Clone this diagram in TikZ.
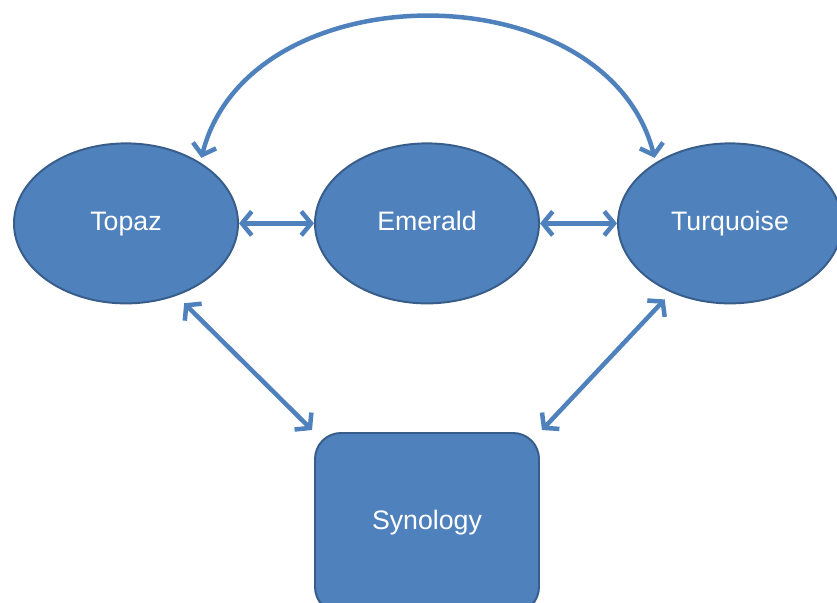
\documentclass[tikz,border=0pt]{standalone}
\usepackage{fontspec}
\setmainfont{Liberation Sans}
\usetikzlibrary{shapes.geometric,positioning,arrows.meta}
\definecolor{gemfill}{HTML}{4F81BD}
\definecolor{gemline}{HTML}{385D8A}
\tikzset{
    gem/.style={
        ellipse,draw=gemline,line width=1.4pt,
        fill=gemfill,text=white,
        minimum width=5.6cm,minimum height=4.0cm,
        text height=13.5pt,text depth=4pt,
        font=\fontsize{19}{22}\selectfont
    },
    store/.style={
        draw=gemline,line width=1.4pt,rounded corners=0.65cm,
        fill=gemfill,text=white,
        minimum width=5.6cm,minimum height=4.5cm,
        text height=13.5pt,text depth=4pt,
        font=\fontsize{19}{22}\selectfont
    },
    link/.style={gemfill,line width=3.2pt,
        {Straight Barb[length=7pt,width=17pt]}-{Straight Barb[length=7pt,width=17pt]}},
}
\begin{document}
\begin{tikzpicture}
		\clip (0,0) rectangle (20.925,15.075);
		\useasboundingbox (0,0) rectangle (20.925,15.075);
		\node[gem] (emerald) at (10.675,9.49) {Emerald};
		\node[gem] (topaz) at (3.15,9.49) {Topaz};
		\node[gem] (turquoise) at (18.25,9.49) {Turquoise};
		\node[store] (synology) at (10.675,2.0) {Synology};
		\draw[link] (topaz) -- (emerald);
		\draw[link] (emerald) -- (turquoise);
		\draw[link] ([shift={(0.15,-0.2)}]topaz.-54) -- ([shift={(-0.05,0.05)}]synology.north west);
		\draw[link] ([shift={(-0.1,-0.2)}]turquoise.-132) -- ([shift={(0.05,0.05)}]synology.north east);
		\draw[link] ([shift={(0.05,0.1)}]topaz.40) .. controls +(1.2,4.7) and +(-1.2,4.7) .. ([shift={(-0.05,0.1)}]turquoise.140);
	\end{tikzpicture}
\end{document}
